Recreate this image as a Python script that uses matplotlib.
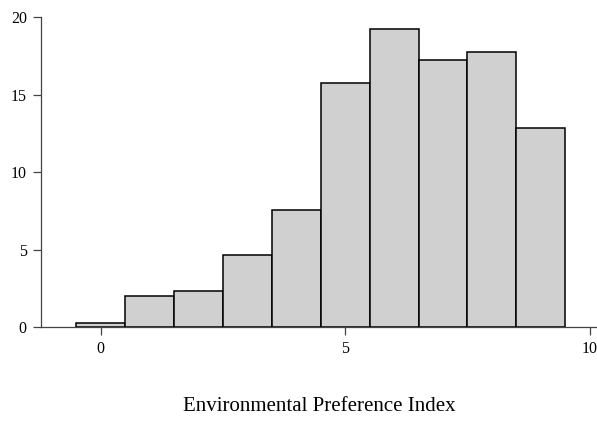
import numpy as np
import matplotlib
matplotlib.use("Agg")
import matplotlib.pyplot as plt

# histogram of the index, bin width 1 centred on integers (percent)
bin_centers = [0, 1, 2, 3, 4, 5, 6, 7, 8, 9]
percent = [0.30, 2.04, 2.36, 4.66, 7.59, 15.78, 19.26, 17.23, 17.78, 12.88]
x_ticks = [0, 5, 10]
y_ticks = [0, 5, 10, 15, 20]
x_label = "Environmental Preference Index"

plt.rcParams['font.family'] = ['Liberation Serif', 'DejaVu Serif']

fig = plt.figure(figsize=(5.97, 4.21), dpi=100)
ax = fig.add_axes([40.7 / 597, 1 - 327.3 / 421, (597 - 40.7) / 597, (327.3 - 17.3) / 421])

ax.bar(bin_centers, percent, width=1.0, color="#d0d0d0", edgecolor="black",
       linewidth=1.1, align="center", zorder=2)

ax.set_xlim(-1.23, 10.15)
ax.set_ylim(0, 20)
ax.set_xticks(x_ticks)
ax.set_yticks(y_ticks)
ax.tick_params(axis="both", direction="out", length=6, width=0.9, color="#444444",
               labelsize=11.5, pad=4)

for side in ["top", "right"]:
    ax.spines[side].set_visible(False)
for side in ["left", "bottom"]:
    ax.spines[side].set_linewidth(0.9)
    ax.spines[side].set_color("#444444")

ax.set_xlabel(x_label, fontsize=15, labelpad=29)

fig.savefig("out.png", dpi=100)
